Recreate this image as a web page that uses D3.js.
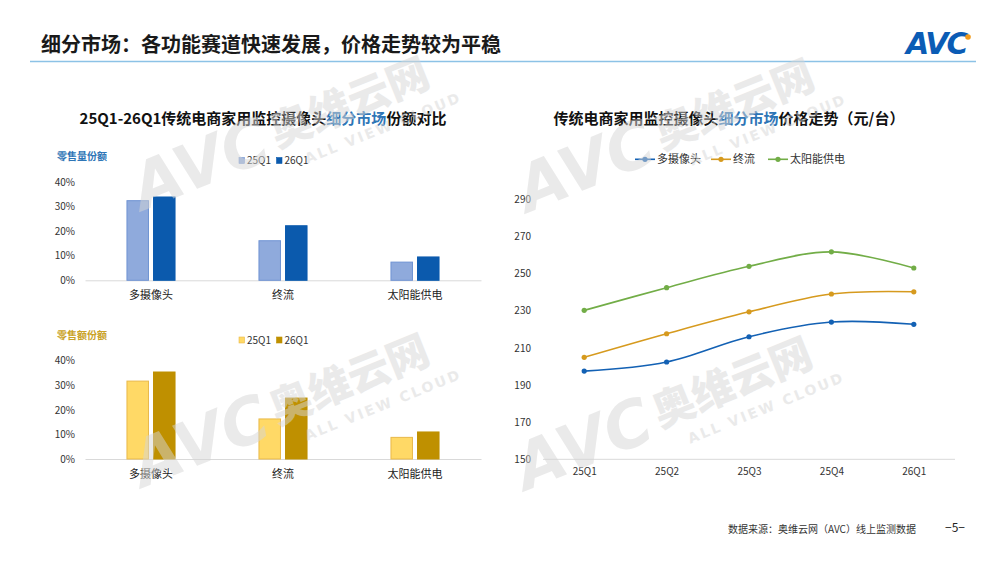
<!DOCTYPE html>
<html><head><meta charset="utf-8">
<script src="https://cdn.jsdelivr.net/npm/d3@7/dist/d3.min.js"></script>
<style>
html,body{margin:0;padding:0;background:#fff;}
svg{display:block;font-family:"Noto Sans CJK SC","Noto Sans",sans-serif;}
</style></head>
<body>
<svg id="c" width="1000" height="562"></svg>
<script>
// ---- data ----
const barCategories = ["多摄像头", "终流", "太阳能供电"];
const barSeries = ["25Q1", "26Q1"];
const volumeShare25Q1 = [0.324, 0.161, 0.074];
const volumeShare26Q1 = [0.339, 0.222, 0.095];
const valueShare25Q1 = [0.317, 0.163, 0.088];
const valueShare26Q1 = [0.354, 0.248, 0.110];
const shareTicks = [0, 0.1, 0.2, 0.3, 0.4];

const quarters = ["25Q1", "25Q2", "25Q3", "25Q4", "26Q1"];
const lineNames = ["多摄像头", "终流", "太阳能供电"];
const priceMulti = [197.5, 202.4, 216.0, 223.9, 222.7];
const priceZhongliu = [204.9, 217.6, 229.4, 239.0, 240.2];
const priceSolar = [230.2, 242.4, 253.9, 261.7, 253.0];
const priceTicks = [150, 170, 190, 210, 230, 250, 270, 290];

const svg = d3.select("#c");
const FONT = '"Noto Sans CJK SC","Noto Sans",sans-serif';

// ---- header ----
svg.append("text").attr("x", 41).attr("y", 52).attr("font-size", 20).attr("font-weight", 700)
  .attr("fill", "#1a1a1a").text("细分市场：各功能赛道快速发展，价格走势较为平稳");
svg.append("line").attr("x1", 30).attr("x2", 976).attr("y1", 61.5).attr("y2", 61.5)
  .attr("stroke", "#8cc2e6").attr("stroke-width", 1.5);
// logo
const logo = svg.append("g");
logo.append("text").attr("x", 906).attr("y", 54).attr("font-size", 30).attr("font-weight", 900)
  .attr("font-style", "italic").attr("font-family", "'DejaVu Sans',sans-serif").attr("letter-spacing", -2)
  .attr("fill", "#0b5cb5").text("AVC");
logo.append("circle").attr("cx", 968).attr("cy", 37).attr("r", 2.8).attr("fill", "#f29b1c");

// ---- watermarks ----
function watermark(x, y) {
  const g = svg.append("g").attr("transform", `translate(${x},${y}) rotate(-22)`)
    .attr("fill", "#d6d6d6").attr("opacity", 0.5).attr("pointer-events", "none");
  g.append("text").attr("x", -6).attr("y", 8).attr("text-anchor", "end").attr("font-size", 64).attr("font-weight", 900)
    .attr("font-style", "italic").attr("font-family", "'DejaVu Sans',sans-serif").text("AVC");
  g.append("text").attr("x", 0).attr("y", 0).attr("font-size", 42).attr("font-weight", 900)
    .attr("font-family", FONT).text("奥维云网");
  g.append("text").attr("x", 22).attr("y", 26).attr("font-size", 14).attr("font-weight", 900)
    .attr("font-family", "'DejaVu Sans',sans-serif").attr("letter-spacing", 2.5).text("ALL VIEW CLOUD");
}

// ---- bar charts ----
function barChart(opts) {
  const x0 = d3.scaleBand().domain(barCategories).range([85, 481]);
  const x1 = d3.scaleBand().domain(barSeries).range([0, x0.bandwidth()]).paddingInner(0.19).paddingOuter(1.58);
  const y = d3.scaleLinear().domain([0, 0.4]).range([opts.y0, opts.y0 - 98.3]);
  const g = svg.append("g");
  g.append("text").attr("x", 57).attr("y", opts.y0 - 120.5).attr("font-size", 10).attr("font-weight", 700)
    .attr("fill", opts.labelColor).text(opts.label);
  barSeries.forEach((s, i) => {
    const lx = 239 + i * 37.5;
    g.append("rect").attr("x", lx).attr("y", opts.legendY - 3).attr("width", 5.5).attr("height", 6)
      .attr("fill", opts.colors[i]).attr("stroke", opts.strokes[i]).attr("stroke-width", 0.6);
    g.append("text").attr("x", lx + 8).attr("y", opts.legendY + 3.5).attr("font-size", 10)
      .attr("fill", "#333").text(s);
  });
  const ya = g.append("g").attr("transform", "translate(75,0)")
    .call(d3.axisLeft(y).tickValues(shareTicks).tickFormat(d3.format(".0%")).tickSize(0).tickPadding(0));
  ya.select(".domain").remove();
  ya.selectAll("text").attr("font-size", 10).attr("fill", "#333").attr("font-family", FONT);
  const xa = g.append("g").attr("transform", `translate(0,${opts.y0})`)
    .call(d3.axisBottom(x0).tickSize(0).tickPadding(11));
  xa.select(".domain").attr("stroke", "#d9d9d9").attr("stroke-width", 1);
  xa.selectAll("text").attr("font-size", 11).attr("fill", "#222").attr("font-family", FONT);
  const rows = barCategories.map((c, i) => ({ c, vals: [opts.data[0][i], opts.data[1][i]] }));
  const grp = g.selectAll(".grp").data(rows).join("g").attr("transform", d => `translate(${x0(d.c)},0)`);
  grp.selectAll("rect").data(d => d.vals.map((v, i) => ({ s: barSeries[i], v, i })))
    .join("rect")
    .attr("x", d => x1(d.s)).attr("width", x1.bandwidth())
    .attr("y", d => y(d.v)).attr("height", d => y(0) - y(d.v))
    .attr("fill", d => opts.colors[d.i]).attr("stroke", d => opts.strokes[d.i]).attr("stroke-width", 1);
}

// ---- titles ----
const t1 = svg.append("text").attr("x", 263).attr("y", 124).attr("text-anchor", "middle")
  .attr("font-size", 15).attr("font-weight", 700).attr("fill", "#111");
t1.append("tspan").text("25Q1-26Q1传统电商家用监控摄像头");
t1.append("tspan").attr("fill", "#2e75b6").text("细分市场");
t1.append("tspan").text("份额对比");
const t2 = svg.append("text").attr("x", 729).attr("y", 124).attr("text-anchor", "middle")
  .attr("font-size", 15).attr("font-weight", 700).attr("fill", "#111");
t2.append("tspan").text("传统电商家用监控摄像头");
t2.append("tspan").attr("fill", "#2e75b6").text("细分市场");
t2.append("tspan").text("价格走势（元/台）");

barChart({
  y0: 280.3, label: "零售量份额", labelColor: "#2e75b6", legendY: 160.5,
  colors: ["#8faadc", "#0b5aad"], strokes: ["#6f93d3", "#0b5aad"],
  data: [volumeShare25Q1, volumeShare26Q1]
});
barChart({
  y0: 459, label: "零售额份额", labelColor: "#c9a227", legendY: 340,
  colors: ["#ffd966", "#bf9000"], strokes: ["#e9b94a", "#bf9000"],
  data: [valueShare25Q1, valueShare26Q1]
});

// ---- line chart ----
const xL = d3.scalePoint().domain(quarters).range([543, 955]).padding(0.5);
const yL = d3.scaleLinear().domain([150, 290]).range([459.3, 199.3]);
const lg = svg.append("g");
const yaL = lg.append("g").attr("transform", "translate(531,0)")
  .call(d3.axisLeft(yL).tickValues(priceTicks).tickSize(0).tickPadding(0));
yaL.select(".domain").remove();
yaL.selectAll("text").attr("font-size", 10).attr("fill", "#333").attr("font-family", FONT);
const xaL = lg.append("g").attr("transform", "translate(0,459.3)")
  .call(d3.axisBottom(xL).tickSize(0).tickPadding(9));
xaL.select(".domain").attr("d", "M543,0H955").attr("stroke", "#d9d9d9");
xaL.selectAll("text").attr("font-size", 10).attr("fill", "#333").attr("font-family", FONT);

const lineColors = ["#1361b4", "#d69a1e", "#72ad47"];
const lineData = [priceMulti, priceZhongliu, priceSolar];
const lineGen = d3.line().x((d, i) => xL(quarters[i])).y(d => yL(d)).curve(d3.curveCardinal.tension(0));
lineData.forEach((arr, k) => {
  lg.append("path").attr("d", lineGen(arr)).attr("fill", "none")
    .attr("stroke", lineColors[k]).attr("stroke-width", 1.6);
  lg.selectAll(null).data(arr).join("circle")
    .attr("cx", (d, i) => xL(quarters[i])).attr("cy", d => yL(d)).attr("r", 2.6)
    .attr("fill", lineColors[k]);
});
const legX = [635, 711, 768];
lineNames.forEach((n, k) => {
  const lx = legX[k];
  lg.append("line").attr("x1", lx).attr("x2", lx + 20).attr("y1", 159.3).attr("y2", 159.3)
    .attr("stroke", lineColors[k]).attr("stroke-width", 1.6);
  lg.append("circle").attr("cx", lx + 10).attr("cy", 159.3).attr("r", 2.6).attr("fill", lineColors[k]);
  lg.append("text").attr("x", lx + 22).attr("y", 163.3).attr("font-size", 11).attr("fill", "#333").text(n);
});

// watermarks on top (semi-transparent)
watermark(277, 148);
watermark(277, 425);
watermark(662, 150);
watermark(660, 428);

// ---- footer ----
svg.append("text").attr("x", 728).attr("y", 533).attr("font-size", 10).attr("fill", "#333")
  .text("数据来源：奥维云网（AVC）线上监测数据");
svg.append("text").attr("x", 955).attr("y", 532).attr("text-anchor", "middle").attr("font-size", 12)
  .attr("fill", "#222").text("−5−");
</script>
</body></html>
